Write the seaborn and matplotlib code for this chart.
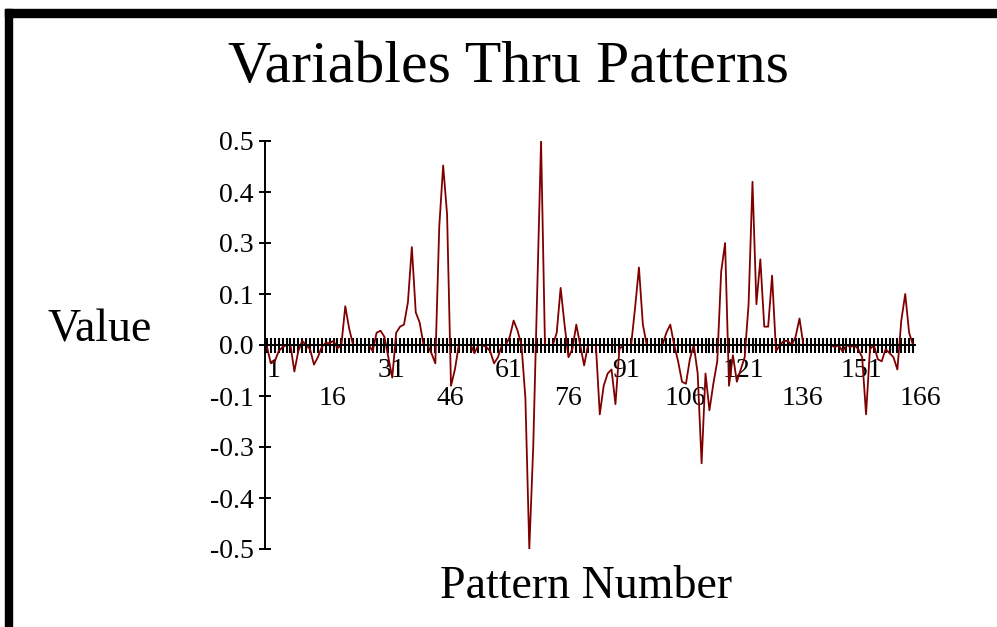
import matplotlib
matplotlib.use("Agg")
import matplotlib.pyplot as plt
from matplotlib.patches import Rectangle
from matplotlib.transforms import ScaledTranslation
import pandas as pd
import seaborn as sns

# Variable value for each pattern (patterns numbered 1..166)
pattern_values = [
    -0.005, -0.045, -0.040, -0.015, -0.005, 0.000, 0.000, -0.065, -0.015, 0.010,   # 1-10
    0.000, -0.010, -0.048, -0.030, -0.005, 0.005, 0.005, 0.010, -0.008, 0.000,     # 11-20
    0.095, 0.040, 0.000, 0.000, 0.000, 0.000, 0.000, -0.015, 0.030, 0.035,         # 21-30
    0.020, -0.030, -0.080, 0.030, 0.045, 0.050, 0.105, 0.240, 0.080, 0.055,        # 31-40
    0.000, 0.000, -0.020, -0.045, 0.290, 0.440, 0.320, -0.100, -0.060, 0.000,      # 41-50
    0.000, 0.000, 0.000, -0.020, 0.000, 0.000, -0.005, -0.015, -0.045, -0.030,     # 51-60
    0.000, 0.000, 0.020, 0.060, 0.035, 0.000, -0.130, -0.500, -0.250, 0.120,       # 61-70
    0.500, 0.000, 0.000, 0.000, 0.030, 0.140, 0.050, -0.030, -0.010, 0.050,        # 71-80
    0.000, -0.050, 0.000, 0.000, 0.000, -0.170, -0.100, -0.070, -0.060, -0.145,    # 81-90
    -0.010, 0.000, 0.000, 0.000, 0.090, 0.190, 0.050, 0.000, 0.000, 0.000,         # 91-100
    0.000, 0.000, 0.030, 0.050, 0.000, -0.040, -0.090, -0.095, -0.035, 0.000,      # 101-110
    -0.070, -0.290, -0.070, -0.160, -0.095, -0.040, 0.180, 0.250, -0.100, -0.025,  # 111-120
    -0.090, -0.060, -0.030, 0.100, 0.400, 0.100, 0.210, 0.045, 0.045, 0.170,       # 121-130
    -0.015, 0.000, 0.010, 0.010, 0.000, 0.020, 0.065, 0.000, 0.000, 0.000,         # 131-140
    0.000, 0.000, 0.000, 0.000, 0.000, -0.005, 0.000, -0.016, 0.000, -0.005,       # 141-150
    0.000, -0.010, -0.030, -0.170, -0.010, 0.000, -0.035, -0.040, -0.010, -0.020,  # 151-160
    -0.030, -0.060, 0.060, 0.125, 0.030, 0.000,                                     # 161-166
]
pattern_numbers = list(range(1, len(pattern_values) + 1))

x_label_positions = [1, 16, 31, 46, 61, 76, 91, 106, 121, 136, 151, 166]
y_tick_values = [-0.5, -0.375, -0.25, -0.125, 0.0, 0.125, 0.25, 0.375, 0.5]
y_tick_labels = ["-0.5", "-0.4", "-0.3", "-0.1", "0.0", "0.1", "0.3", "0.4", "0.5"]

sns.set_theme(style="ticks")
plt.rcParams["font.family"] = ["Liberation Serif", "DejaVu Serif"]

W, H = 997, 627
fig = plt.figure(figsize=(W / 100, H / 100), dpi=100, facecolor="white")
ax = fig.add_axes([265 / W, (H - 549) / H, 650 / W, 408 / H])
ax.set_facecolor("white")

df = pd.DataFrame({"Pattern": pattern_numbers, "Value": pattern_values})
sns.lineplot(data=df, x="Pattern", y="Value", color="#800000",
             linewidth=1.3, ax=ax)

ax.set_xlim(0.5, 166.5)
ax.set_ylim(-0.5, 0.5)

for side in ["top", "right"]:
    ax.spines[side].set_visible(False)
ax.spines["bottom"].set_position(("data", 0))
for side in ["bottom", "left"]:
    ax.spines[side].set_linewidth(1.4)
    ax.spines[side].set_color("black")

# x axis: a tick at every pattern, staggered labels every 15 patterns
ax.set_xticks(pattern_numbers, minor=True)
ax.set_xticks(x_label_positions)
ax.set_xticklabels([str(v) if k % 2 == 0 else "\n" + str(v)
                    for k, v in enumerate(x_label_positions)],
                   linespacing=1.15)
ax.tick_params(axis="x", which="both", direction="inout", length=10.8,
               width=1.5, color="black")
ax.tick_params(axis="x", which="major", labelsize=20, pad=4,
               labelcolor="black")
shift = ScaledTranslation(7 / 100, 0, fig.dpi_scale_trans)
for lab in ax.get_xticklabels():
    lab.set_transform(lab.get_transform() + shift)

# y axis
ax.set_yticks(y_tick_values)
ax.set_yticklabels(y_tick_labels)
ax.tick_params(axis="y", which="major", direction="inout", length=8,
               width=1.4, color="black", labelsize=20, pad=4,
               labelcolor="black")

ax.set_xlabel("Pattern Number", fontsize=33, color="black")
ax.xaxis.set_label_coords((586 - 265) / 650, (549 - 598) / 408)
ax.xaxis.label.set_va("baseline")
ax.set_ylabel("Value", fontsize=33, rotation=0, color="black")
ax.yaxis.set_label_coords((100 - 265) / 650, (549 - 342) / 408)
ax.yaxis.label.set_va("baseline")
ax.yaxis.label.set_ha("center")

fig.text(508 / W, 1 - 82 / H, "Variables Thru Patterns", fontsize=43,
         ha="center", va="baseline", color="black")

# heavy black frame along the top and left edges
fig.patches.append(Rectangle((5 / W, 0), 7 / W, (H - 9) / H,
                             transform=fig.transFigure, color="black"))
fig.patches.append(Rectangle((5 / W, (H - 17) / H), (W - 5) / W, 8 / H,
                             transform=fig.transFigure, color="black"))

fig.savefig("out.png", dpi=100, facecolor="white")
